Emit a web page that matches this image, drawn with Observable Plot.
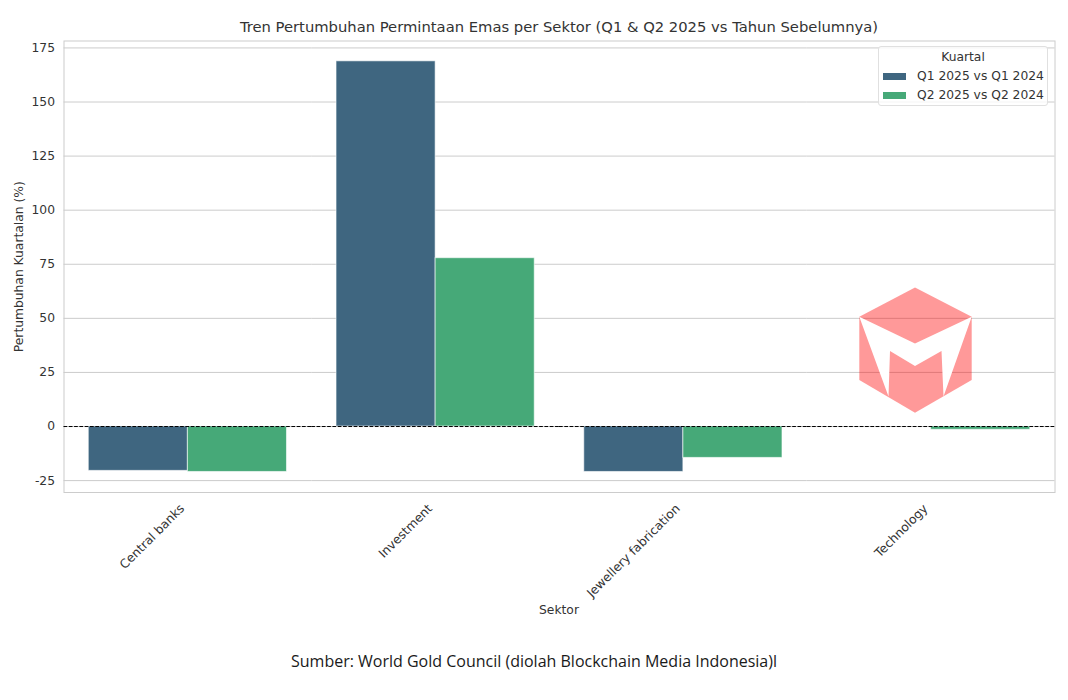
<!DOCTYPE html>
<html>
<head>
<meta charset="utf-8">
<script src="https://cdn.jsdelivr.net/npm/d3@7"></script>
<script src="https://cdn.jsdelivr.net/npm/@observablehq/plot@0.6"></script>
<style>
html,body{margin:0;padding:0;background:#fff}
#page{position:relative;width:1068px;height:700px;overflow:hidden;font-family:"DejaVu Sans",sans-serif;color:#262626}
#title{position:absolute;left:63.5px;width:991px;top:18px;text-align:center;font-size:14.76px;line-height:18px;white-space:nowrap;color:#333}
#chart{position:absolute;left:0;top:0}
#chart svg{display:block;background:transparent}
#caption{position:absolute;left:0;width:1068px;top:651px;text-align:center;font-family:"Open Sans",sans-serif;font-size:16px;line-height:20px;color:#1a1a1a}
#legend{position:absolute;left:878px;top:46px;width:170px;height:60px;box-sizing:border-box;background:rgba(255,255,255,.8);border:1px solid #e0e0e0;border-radius:3px;font-size:12.3px;color:#333}
#legend .t{position:absolute;left:0;width:100%;top:3px;text-align:center;line-height:15px}
#legend .r{position:absolute;left:4px;white-space:nowrap;line-height:15px}
#legend i{display:inline-block;width:23px;height:7px;margin-right:11px;vertical-align:0}
#logo{position:absolute;left:0;top:0;pointer-events:none}
</style>
</head>
<body>
<div id="page">
  <div id="chart"></div>
  <div id="title">Tren Pertumbuhan Permintaan Emas per Sektor (Q1 &amp; Q2 2025 vs Tahun Sebelumnya)</div>
  <svg id="logo" width="1068" height="700">
    <polygon points="915,287.5 971.7,316.7 971.7,380 915,412.7 859.3,380 859.3,316.7" fill="#ff0000" fill-opacity=".4"/>
    <polygon points="859.3,316.7 915,343.5 971.7,316.7 943.5,396.5 941.5,351 915,366 890,351 888.5,396.5" fill="#fff"/>
  </svg>
  <div id="legend"></div>
  <div id="caption">Sumber: World Gold Council (diolah Blockchain Media Indonesia)l</div>
</div>
<script>
const sectors = ["Central banks", "Investment", "Jewellery fabrication", "Technology"];
const quarters = ["Q1 2025 vs Q1 2024", "Q2 2025 vs Q2 2024"];
const q1Values = [-20.5, 168.8, -21, null];
const q2Values = [-21, 77.8, -14.5, -1.5];
const quarterColors = ["#3f6680", "#46a978"];
const yTicks = [-25, 0, 25, 50, 75, 100, 125, 150, 175];

const rows = sectors.flatMap((s, i) => [
  {sector: s, quarter: quarters[0], value: q1Values[i]},
  {sector: s, quarter: quarters[1], value: q2Values[i]}
]);

const plot = Plot.plot({
  width: 1068,
  height: 640,
  marginTop: 40.5,
  marginBottom: 148,
  marginLeft: 63.5,
  marginRight: 13.5,
  style: {fontFamily: '"DejaVu Sans",sans-serif', fontSize: "12.3px", color: "#333", background: "transparent"},
  fx: {domain: sectors, padding: 0, round: false},
  x: {domain: quarters, paddingInner: 0, paddingOuter: 0.25, axis: null, round: false},
  y: {domain: [-30.5, 178.2]},
  color: {domain: quarters, range: quarterColors},
  marks: [
    Plot.gridY(yTicks, {stroke: "#cccccc", strokeOpacity: 1, strokeWidth: 1}),
    Plot.frame({stroke: "#cccccc", strokeWidth: 1, facet: "super"}),
    Plot.barY(rows.filter(d => d.value != null), {fx: "sector", x: "quarter", y: "value", fill: "quarter", stroke: "#ffffff", strokeWidth: 1, strokeOpacity: 0.6, inset: 0}),
    Plot.ruleY([0], {stroke: "#000", strokeWidth: 1, strokeDasharray: "3.7,1.6"}),
    Plot.axisY(yTicks, {tickSize: 0, tickPadding: 9, tickFormat: d => String(d), label: "Pertumbuhan Kuartalan (%)", labelAnchor: "center", labelArrow: "none", labelOffset: 50, fill: "#333", fontSize: 12.3}),
    Plot.axisFx({anchor: "bottom", tickRotate: -45, tickSize: 0, tickPadding: 8, dx: -5.5, dy: 6, label: null, fill: "#333", fontSize: 12.3}),
    Plot.text(["Sektor"], {frameAnchor: "bottom", facet: "super", dy: 121, dx: -0.5, fill: "#333", fontSize: 12.3})
  ]
});
document.getElementById("chart").appendChild(plot);

const legend = document.getElementById("legend");
const head = document.createElement("div");
head.className = "t"; head.textContent = "Kuartal"; legend.appendChild(head);
quarters.forEach((q, i) => {
  const row = document.createElement("div");
  row.className = "r"; row.style.top = (22 + i * 19) + "px";
  const sw = document.createElement("i"); sw.style.background = quarterColors[i];
  row.appendChild(sw); row.appendChild(document.createTextNode(q));
  legend.appendChild(row);
});
</script>
</body>
</html>
